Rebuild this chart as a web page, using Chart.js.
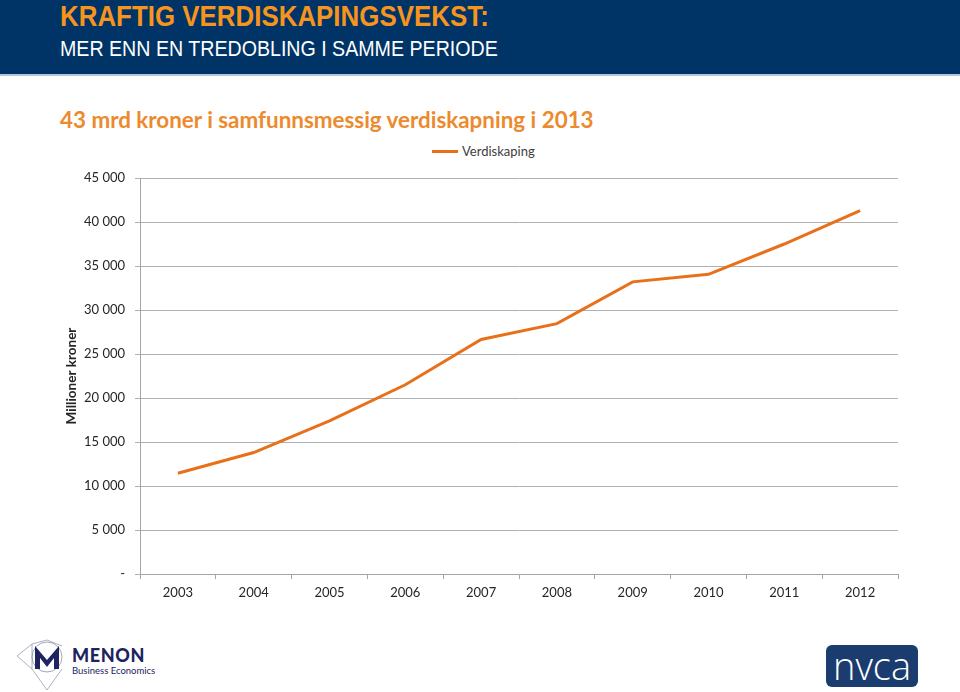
<!DOCTYPE html>
<html>
<head>
<meta charset="utf-8">
<script src="https://cdn.jsdelivr.net/npm/chart.js@4.4.0/dist/chart.umd.min.js"></script>
<style>
  body { margin: 0; width: 960px; height: 692px; background: #fff; position: relative; overflow: hidden; font-family: Lato, "Open Sans", sans-serif; }
  .header { position: absolute; left: 0; top: 0; width: 960px; height: 74px; background: #003466; border-bottom: 2px solid #a9c9e6; }
  .header .t1 { position: absolute; left: 60px; top: 0px; font-family: "Liberation Sans Narrow", "Liberation Sans", sans-serif; font-weight: bold; font-size: 29px; color: #f7941d; white-space: nowrap; transform: scaleX(0.893); transform-origin: left top; }
  .header .t2 { position: absolute; left: 60px; top: 36px; font-family: "Liberation Sans Narrow", "Liberation Sans", sans-serif; font-size: 22.4px; color: #fff; white-space: nowrap; transform: scaleX(0.876); transform-origin: left top; }
  .ctitle { position: absolute; left: 60px; top: 106px; font-weight: bold; font-size: 22.4px; color: #ec8a2d; white-space: nowrap; }
  .legend { position: absolute; left: 432px; top: 143px; font-size: 13px; color: #404040; }
  .legend span.ln { display: inline-block; width: 26px; height: 3px; background: #e8701a; vertical-align: middle; margin-right: 4px; position: relative; top: -1px; }
  #wrap { position: absolute; left: 0; top: 160px; width: 910px; height: 450px; }
  .menon { position: absolute; left: 15px; top: 638px; width: 150px; height: 54px; }
  .menon .name { position: absolute; left: 57px; top: 6px; font-weight: 900; font-size: 18px; letter-spacing: 0.6px; color: #1d2460; }
  .menon .sub { position: absolute; left: 57px; top: 27px; font-size: 9.5px; color: #1d2460; white-space: nowrap; }
  .nvca { position: absolute; left: 826px; top: 645px; width: 92px; height: 42px; background: #1a3c6e; border-radius: 6px; color: #fff; font-size: 38px; line-height: 40px; text-align: center; font-weight: 300; font-family: "Open Sans", sans-serif; }
</style>
</head>
<body>
<div class="header">
  <div class="t1">KRAFTIG VERDISKAPINGSVEKST:</div>
  <div class="t2">MER ENN EN TREDOBLING I SAMME PERIODE</div>
</div>
<div class="ctitle">43 mrd kroner i samfunnsmessig verdiskapning i 2013</div>
<div class="legend"><span class="ln"></span>Verdiskaping</div>
<div id="wrap"><canvas id="chart"></canvas></div>
<div class="menon">
  <svg width="52" height="54" viewBox="0 0 52 54">
    <polyline points="2,18 17,6 32,2 47,8" fill="none" stroke="#8a8fa8" stroke-width="0.7"/>
    <polyline points="2,18 17,31 32,52 47,31" fill="none" stroke="#8a8fa8" stroke-width="0.7"/>
    <line x1="17" y1="6" x2="17" y2="31" stroke="#8a8fa8" stroke-width="0.7"/>
    <circle cx="32" cy="19" r="15" fill="none" stroke="#8a8fa8" stroke-width="0.8"/>
    <path d="M20 31 L20 8 L32 22 L44 8 L44 31 L39 31 L39 20 L32 29 L25 20 L25 31 Z" fill="#1d2460"/>
  </svg>
  <div class="name">MENON</div>
  <div class="sub">Business Economics</div>
</div>
<div class="nvca">nvca</div>
<script>
const years = ['2003', '2004', '2005', '2006', '2007', '2008', '2009', '2010', '2011', '2012'];
const verdiskaping = [11450, 13800, 17400, 21500, 26650, 28450, 33200, 34050, 37500, 41300];
const y_max = 45000;
const y_step = 5000;

const ctx = document.getElementById('chart').getContext('2d');

function formatTick(v) {
    if (v === 0) return '-';
    return String(v).replace(/\B(?=(\d{3})+(?!\d))/g, ' ');
}

const my_chart = new Chart(ctx, {
    type: 'line',
    data: {
        labels: years,
        datasets: [{
            label: 'Verdiskaping',
            data: verdiskaping,
            fill: false,
            borderColor: '#e8701a',
            backgroundColor: '#e8701a',
            borderWidth: 3,
            pointRadius: 0,
            tension: 0
        }]
    },
    options: {
        responsive: true,
        maintainAspectRatio: false,
        animation: false,
        layout: { padding: { top: 18, right: 12 } },
        plugins: {
            legend: { display: false },
            tooltip: { enabled: false }
        },
        scales: {
            x: {
                offset: true,
                grid: { drawOnChartArea: false, drawTicks: true, tickLength: 5, offset: true, color: '#a6a6a6' },
                border: { color: '#a6a6a6' },
                ticks: { color: '#262626', font: { family: 'Lato', size: 13 }, padding: 6, maxRotation: 0 },
                afterFit: (scale) => { scale.height = 36; }
            },
            y: {
                min: 0,
                max: y_max,
                grid: { color: '#b0b0b0', tickLength: 5 },
                border: { color: '#a6a6a6' },
                ticks: { stepSize: y_step, color: '#262626', font: { family: 'Lato', size: 13 }, padding: 10, callback: formatTick },
                title: { display: true, text: 'Millioner kroner', color: '#262626', font: { family: 'Lato', size: 13.5, weight: 'bold' }, padding: { top: 64 } },
                afterFit: (scale) => { scale.width = 140; }
            }
        }
    }
});
</script>
</body>
</html>
